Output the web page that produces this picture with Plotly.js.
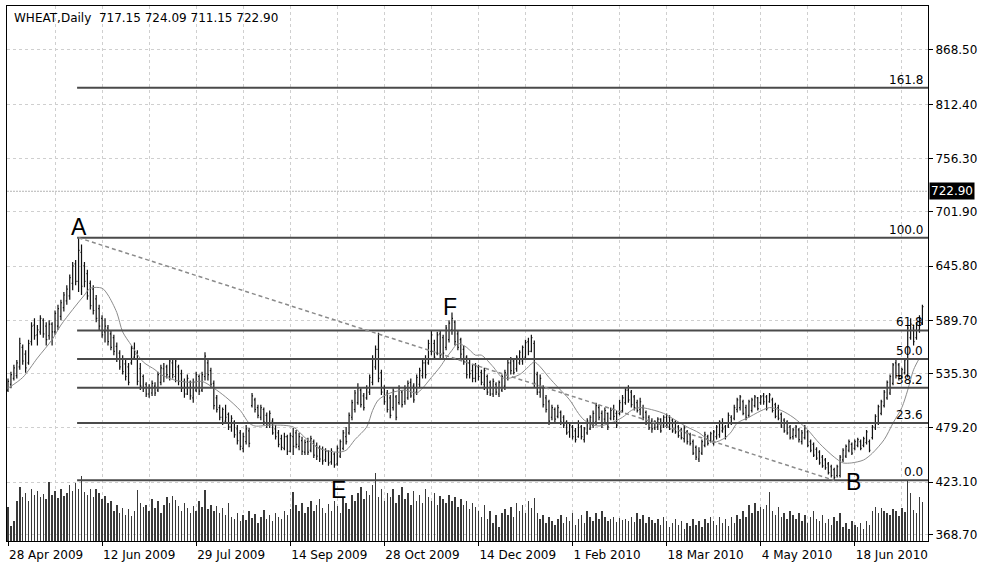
<!DOCTYPE html>
<html><head><meta charset="utf-8">
<script src="https://cdn.plot.ly/plotly-3.0.1.min.js"></script>
<style>html,body{margin:0;padding:0;background:#fff}#chart{width:981px;height:568px}</style>
</head><body><div id="chart"></div>
<script>
// ---------- data ----------
const symbolTitle = 'WHEAT,Daily';
const lastQuote = [717.15, 724.09, 711.15, 722.90];
const dateLabels = ['28 Apr 2009','12 Jun 2009','29 Jul 2009','14 Sep 2009','28 Oct 2009','14 Dec 2009','1 Feb 2010','18 Mar 2010','4 May 2010','18 Jun 2010'];
const labelBarIdx = [0,32,64,96,128,160,192,224,256,288];
const priceTicks = [868.50,812.40,756.30,701.90,645.80,589.70,535.30,479.20,423.10,368.70];

const high = [530,537,544,549,572,565,559,570,588,592,
585,595,592,588,590,588,600,606,611,619,
626,637,650,652,675,668,650,642,631,626,
616,606,595,592,585,580,575,567,559,554,
549,546,564,567,559,546,534,526,524,528,
526,537,544,546,544,551,549,551,544,539,
530,534,528,530,537,534,537,557,549,541,
528,513,503,500,503,495,492,487,482,477,
474,482,479,515,510,503,503,500,495,497,
489,482,477,472,474,472,474,479,477,474,
470,467,469,471,467,464,461,460,458,456,
458,454,461,467,477,480,495,508,518,525,
520,515,523,534,554,564,577,539,523,518,
513,520,513,523,518,523,528,530,525,534,
541,549,554,570,580,570,578,580,575,585,
590,598,590,580,572,564,554,549,544,546,
544,539,541,534,528,530,526,528,534,539,
549,552,549,554,559,564,570,572,575,569,
537,534,523,513,508,503,500,503,497,492,
487,485,482,479,487,482,480,489,492,497,
505,503,497,500,495,500,503,497,508,513,
520,523,518,513,508,510,503,497,492,489,
487,490,489,492,494,492,489,487,482,479,
482,477,474,467,461,459,467,475,472,475,
477,482,487,489,482,495,492,503,510,513,
508,503,508,510,513,511,513,515,513,515,
510,505,503,495,489,487,482,479,482,479,
477,482,477,467,464,459,456,451,448,444,
441,438,441,451,458,462,467,464,467,469,
467,470,477,467,482,493,503,508,518,528,
534,546,549,546,541,551,585,592,585,588,595,606];

const low = [516,520,528,530,539,544,536,544,564,570,
564,575,572,564,570,564,575,580,590,599,
606,611,621,626,619,616,624,611,601,596,
588,580,572,567,564,559,554,547,539,534,
528,523,544,549,523,518,516,511,510,512,
512,516,523,526,530,528,530,526,523,516,
510,513,508,505,516,513,516,528,528,520,
498,495,487,482,485,477,475,469,462,456,
454,462,459,500,495,489,487,482,479,479,
472,467,459,456,456,451,454,451,458,456,
451,451,451,454,448,446,444,441,444,440,
441,438,440,448,456,462,472,487,495,503,
500,497,508,513,523,539,526,513,503,495,
489,497,487,503,500,503,508,510,505,513,
520,530,530,544,554,549,554,551,549,559,
567,575,564,559,551,544,530,530,526,526,
528,523,518,513,512,511,513,511,516,518,
528,534,534,537,544,544,549,554,557,521,
513,510,500,495,482,487,485,489,482,479,
472,469,467,464,469,467,464,472,477,479,
482,487,479,485,477,487,487,479,492,495,
503,505,500,497,495,492,487,482,477,474,
477,477,474,479,479,477,474,473,469,467,
464,462,461,451,446,444,451,459,461,464,
461,467,469,474,467,479,482,487,495,497,
492,487,490,495,500,497,503,503,497,505,
495,489,487,479,474,472,467,467,469,464,
462,467,459,454,449,446,441,438,436,431,
428,425,428,428,444,448,454,451,456,459,
456,459,462,454,467,477,482,492,500,508,
513,523,530,528,530,534,531,570,564,570,577,585];

const open = [518,524,530,533,542,562,555,546,568,585,
575,578,590,584,574,586,578,584,594,603,
610,615,628,648,630,660,646,638,628,622,
612,602,592,578,582,576,572,563,556,550,
545,542,546,552,556,540,532,524,514,515,
522,518,526,540,542,532,546,532,542,535,
527,514,526,510,518,532,518,532,546,538,
525,510,500,490,486,493,480,485,478,474,
458,465,476,502,508,500,490,498,492,482,
486,478,474,468,458,470,455,470,474,460,
466,454,465,456,465,460,458,457,446,455,
444,452,442,450,458,470,474,490,498,505,
518,512,510,516,526,542,560,536,520,515,
510,500,511,505,516,506,510,526,522,516,
524,533,546,546,558,566,556,576,572,562,
570,580,588,576,570,560,552,546,538,530,
542,536,524,532,526,514,524,514,518,522,
530,546,548,540,546,548,552,568,558,566,
534,516,520,510,506,490,498,491,495,490,
485,475,480,476,470,480,467,474,478,482,
485,500,494,488,494,489,498,494,494,497,
505,518,516,511,505,498,500,495,490,486,
479,480,488,481,490,490,487,485,480,477,
468,475,472,465,459,447,453,461,470,466,
463,470,472,476,480,481,490,489,498,500,
506,500,492,497,502,510,505,512,511,506,
508,503,500,493,487,485,480,470,471,477,
465,469,475,465,462,457,454,449,446,442,
439,436,430,430,446,450,456,462,458,461,
465,461,464,465,469,479,484,494,502,510,
515,525,546,544,532,536,534,572,582,572,580,588];

const close = [527,534,541,546,566,548,541,566,584,574,
580,592,576,570,586,578,597,602,608,616,
622,634,646,630,662,625,630,615,605,600,
592,584,575,584,568,562,558,550,542,537,
532,526,561,555,527,522,520,514,520,525,
515,534,541,532,534,548,534,548,527,520,
514,530,512,526,534,517,534,553,534,524,
502,498,490,498,490,480,489,472,466,460,
470,478,463,512,498,492,500,485,482,494,
474,470,462,459,470,455,471,460,462,470,
455,464,454,468,451,450,447,445,455,443,
455,441,458,465,474,465,492,505,515,520,
503,500,520,531,550,560,530,516,506,498,
492,517,490,520,503,520,525,512,508,531,
538,546,534,566,575,552,575,554,556,582,
587,592,568,562,555,547,534,535,530,543,
532,526,538,516,514,527,516,526,532,536,
546,538,536,552,557,562,567,558,572,525,
516,530,503,498,486,500,488,500,485,482,
474,482,470,467,484,470,478,486,490,494,
502,490,482,497,480,497,491,482,505,510,
518,508,503,500,497,506,490,485,479,478,
485,488,476,490,482,478,476,475,471,469,
479,465,463,453,449,455,465,472,463,473,
475,480,485,478,470,492,484,500,508,511,
494,490,506,508,511,499,511,506,499,513,
497,491,489,481,476,474,469,477,480,467,
474,479,461,456,451,448,443,440,438,433,
430,428,439,449,456,460,465,453,465,467,
458,468,475,456,480,491,501,506,516,526,
532,544,533,532,539,549,582,586,568,586,592,604];

// volume (thousand lots)
const volume = [34,15,20,40,54,44,48,40,52,46,
50,44,47,42,59,46,50,43,52,45,
48,56,50,58,52,65,49,46,52,44,
52,48,42,45,38,40,30,36,28,33,
26,32,25,30,51,38,34,36,30,42,
33,40,28,36,44,38,45,41,35,30,
38,33,28,35,30,40,34,51,32,36,
30,35,28,33,26,38,24,22,28,20,
26,21,30,23,27,18,24,31,22,26,
20,28,24,22,30,26,32,49,36,30,
38,28,34,40,30,36,42,33,28,37,
30,40,35,28,44,38,32,46,40,48,
54,42,50,46,56,68,44,52,40,48,
44,52,38,46,54,42,48,36,50,40,
46,38,52,44,40,48,36,45,42,38,
46,40,44,34,42,36,40,32,38,34,
30,24,36,22,30,18,26,14,28,32,
26,34,24,38,30,36,28,40,33,43,
28,22,26,18,24,20,16,22,26,18,
24,20,28,16,22,26,18,30,24,20,
28,22,30,24,20,22,24,19,23,21,
22,20,24,19,28,22,26,18,24,21,
18,22,16,24,20,14,18,22,16,20,
12,18,15,22,16,20,14,22,18,24,
20,16,24,18,22,15,24,18,26,22,
30,24,36,28,38,30,34,32,36,49,
30,26,34,24,28,22,30,26,22,28,
20,26,18,24,30,22,20,26,18,22,
16,24,20,28,14,18,12,20,16,14,
18,12,20,16,30,34,28,33,30,28,
26,32,30,25,33,29,61,48,31,28,44,39];

// moving average line, read at these bar indices
const maIdx = [0,5,10,15,18,22,26,28,32,34,37,39,42,46,50,52,57,62,66,70,74,79,82,84,90,97,101,106,112,115,118,122,124,126,130,135,139,141,144,147,149,151,153,156,159,161,165,168,170,174,177,179,181,184,187,191,194,196,199,201,205,209,212,215,220,223,227,231,235,238,240,244,246,248,252,255,259,263,267,272,276,281,284,287,291,294,298,301,304,306,308,310];
const maVal = [520,531,551,570,585,601,616,623,623,616,598,578,564,547,539,534,528,526,527,520,511,497,484,481,482,480,469,458,454,456,467,480,497,508,515,518,515,520,531,542,551,559,566,562,554,554,542,531,530,534,542,547,542,531,521,508,494,487,482,481,484,490,497,500,497,494,487,480,474,467,464,469,475,484,490,495,500,497,490,477,463,449,443,443,446,453,467,484,500,518,539,551];

// Fibonacci retracement between swing A (high) and swing B (low)
const fibRatios = [0, 0.236, 0.382, 0.5, 0.618, 1, 1.618];
const pivotLabels = ['A','E','F','B'];
const pivotIdx = [24, 111, 151, 281];
const pivotKind = ['high','low','high','low'];

// ---------- drawing ----------
const n = high.length;
const idx = high.map((_, i) => i);
const aIdx = pivotIdx[0], bIdx = pivotIdx[3];
const fibTop = high[aIdx], fibBottom = low[bIdx];
const fibLevels = fibRatios.map(r => fibBottom + r * (fibTop - fibBottom));
const xMin = -0.34, xMax = n + 0.9;

const traces = [
  {type:'bar', x: idx, y: volume, yaxis:'y2', width:0.5,
   marker:{color:'#3a3a3a', line:{width:0}}, hoverinfo:'skip'},
  {type:'ohlc', x: idx, open: open, high: high, low: low, close: close,
   increasing:{line:{color:'#111', width:1.2}}, decreasing:{line:{color:'#111', width:1.2}},
   tickwidth:0.35, hoverinfo:'skip'},
  {type:'scatter', mode:'lines', x: maIdx, y: maVal,
   line:{color:'#8c8c8c', width:1, shape:'spline', smoothing:0.8}, hoverinfo:'skip'}
];

const shapes = [];
// bid line
shapes.push({type:'line', xref:'paper', x0:0, x1:1, yref:'y', y0:lastQuote[3], y1:lastQuote[3],
  line:{color:'#b4b4b4', width:1, dash:'2px,1px'}, layer:'below'});
// fib levels
fibLevels.forEach(v => shapes.push({type:'line', xref:'x', x0:aIdx - 0.5, x1:xMax, yref:'y', y0:v, y1:v,
  line:{color:'#4a4a4a', width:2}}));
// trend line A -> B
shapes.push({type:'line', xref:'x', yref:'y', x0:aIdx, y0:fibTop, x1:bIdx, y1:fibBottom,
  line:{color:'#8a8a8a', width:1.5, dash:'4px,3px'}});

const annotations = [];
annotations.push({xref:'paper', yref:'paper', x:0, y:1, xanchor:'left', yanchor:'top', xshift:5, yshift:-3,
  showarrow:false, text: symbolTitle + '\u00a0\u00a0' + lastQuote.map(v => v.toFixed(2)).join(' '),
  font:{family:'DejaVu Sans', size:12, color:'#000'}});
fibRatios.forEach((r, k) => annotations.push({xref:'paper', x:1, xanchor:'right', xshift:-3,
  yref:'y', y:fibLevels[k], yanchor:'bottom', yshift:-1, showarrow:false,
  text:(r * 100).toFixed(1), font:{family:'DejaVu Sans', size:12, color:'#000'}}));
// current price box
annotations.push({xref:'paper', x:1, xanchor:'left', xshift:1, yref:'y', y:lastQuote[3], yanchor:'middle',
  showarrow:false, text:lastQuote[3].toFixed(2), bgcolor:'#000', borderpad:1,
  font:{family:'DejaVu Sans', size:12, color:'#fff'}});
// swing letters
const letterStyle = {A:{yanchor:'bottom', xs:0, ys:-4}, E:{yanchor:'top', xs:4, ys:-7},
                     F:{yanchor:'bottom', xs:-2, ys:-10}, B:{yanchor:'middle', xs:19, ys:-2}};
pivotLabels.forEach((lab, k) => {
  const i = pivotIdx[k];
  const y = pivotKind[k] === 'high' ? high[i] : low[i];
  const st = letterStyle[lab];
  annotations.push({x:i, y:y, xref:'x', yref:'y', xanchor:'center', yanchor:st.yanchor,
    xshift:st.xs, yshift:st.ys, showarrow:false, text:lab,
    font:{family:'Liberation Sans', size:23, color:'#000'}});
});

const gridColor = '#cfcfcf';
const gridDash = '3px,3px';
const layout = {
  width:981, height:568,
  margin:{l:7, r:53, t:6, b:27, pad:0},
  paper_bgcolor:'#fff', plot_bgcolor:'#fff',
  showlegend:false, hovermode:false, dragmode:false,
  font:{family:'DejaVu Sans', size:12, color:'#000'},
  xaxis:{range:[xMin, xMax], rangeslider:{visible:false}, fixedrange:true,
    tickmode:'array', tickvals:labelBarIdx, ticktext:dateLabels,
    ticks:'outside', ticklen:4, tickcolor:'#000', ticklabelposition:'outside right', ticklabelstandoff:3,
    showgrid:true, gridcolor:gridColor, griddash:gridDash, gridwidth:1,
    minor:{tickmode:'linear', tick0:0, dtick:16, showgrid:true, gridcolor:gridColor, griddash:gridDash, ticks:''},
    showline:true, mirror:true, linecolor:'#000', linewidth:1, zeroline:false,
    tickfont:{family:'DejaVu Sans', size:12, color:'#000'}},
  yaxis:{side:'right', range:[362.5, 913.8], fixedrange:true,
    tickmode:'array', tickvals:priceTicks, ticktext:priceTicks.map(v => v.toFixed(2)),
    ticks:'outside', ticklen:4, tickcolor:'#000',
    showgrid:true, gridcolor:gridColor, griddash:gridDash,
    showline:true, mirror:true, linecolor:'#000', linewidth:1, zeroline:false,
    tickfont:{family:'DejaVu Sans', size:12, color:'#000'}},
  yaxis2:{overlaying:'y', range:[0, 535], visible:false, fixedrange:true},
  bargap:0,
  shapes: shapes,
  annotations: annotations
};

Plotly.newPlot('chart', traces, layout, {staticPlot:true, displayModeBar:false});
</script>
</body></html>
